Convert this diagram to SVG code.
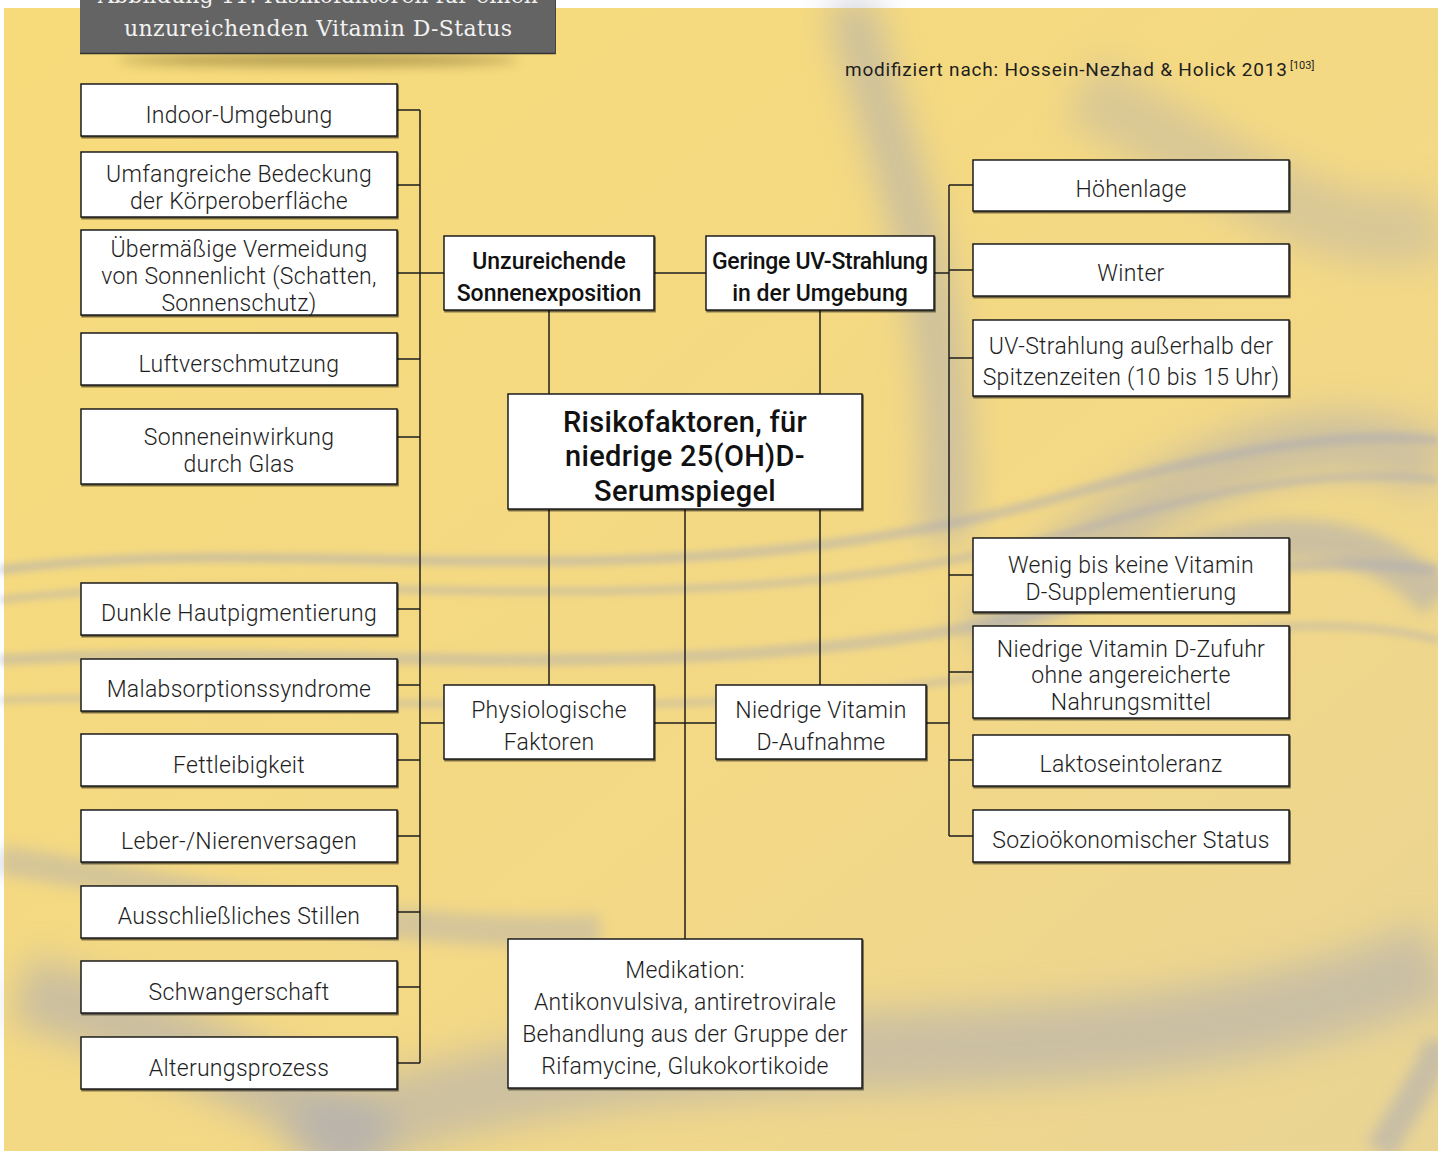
<svg xmlns="http://www.w3.org/2000/svg" width="1438" height="1151" viewBox="0 0 1438 1151">
<defs>
<filter id="b20" x="-50%" y="-50%" width="200%" height="200%"><feGaussianBlur stdDeviation="18"/></filter>
<filter id="b8" x="-50%" y="-50%" width="200%" height="200%"><feGaussianBlur stdDeviation="7"/></filter>
<filter id="b3" x="-50%" y="-50%" width="200%" height="200%"><feGaussianBlur stdDeviation="3"/></filter>
<filter id="sh" x="-10%" y="-10%" width="120%" height="130%"><feDropShadow dx="1" dy="1.5" stdDeviation="0.6" flood-color="#000" flood-opacity="0.6"/></filter>
<filter id="hsh" x="-20%" y="-100%" width="140%" height="300%"><feGaussianBlur stdDeviation="6"/></filter>
<linearGradient id="bg" x1="0" y1="0" x2="1" y2="1">
<stop offset="0" stop-color="#f7db7a"/>
<stop offset="0.6" stop-color="#f3d886"/>
<stop offset="1" stop-color="#e9d494"/>
</linearGradient>
</defs>
<style>
.box{fill:#fff;stroke:#1e1e1e;stroke-width:1.5;filter:url(#sh)}
.t{font-family:Roboto,"Liberation Sans",sans-serif;font-weight:300;font-size:23px;fill:#1e1e1e;text-anchor:middle;letter-spacing:0.3px}
.tb{font-family:Roboto,"Liberation Sans",sans-serif;font-weight:500;font-size:23px;fill:#111;text-anchor:middle}
.tt{font-family:Roboto,"Liberation Sans",sans-serif;font-weight:500;font-size:29px;fill:#111;text-anchor:middle;letter-spacing:0.3px}
.c{fill:none;stroke:#1e1e1e;stroke-width:1.5}
.sw{fill:none;stroke:#a7a9b7}
</style>
<rect width="1438" height="1151" fill="#fff"/>
<g id="background">
<rect x="4" y="8" width="1434" height="1143" fill="url(#bg)"/>
<path class="sw" d="M850 0 C880 140 960 280 945 540" stroke-width="45" opacity="0.55" filter="url(#b20)"/>
<path class="sw" d="M1080 90 C1250 180 1350 260 1438 220" stroke-width="70" opacity="0.35" filter="url(#b20)"/>
<path class="sw" d="M980 640 C1150 470 1330 400 1438 470" stroke-width="60" opacity="0.5" filter="url(#b20)"/>
<path class="sw" d="M1180 560 C1300 520 1380 540 1438 600" stroke-width="40" opacity="0.5" filter="url(#b8)"/>
<path class="sw" d="M0 570 C300 530 650 610 1050 500 C1220 450 1340 430 1438 440" stroke-width="10" opacity="0.45" filter="url(#b3)"/>
<path class="sw" d="M0 600 C320 560 700 640 1080 530 C1240 480 1350 470 1438 480" stroke-width="8" opacity="0.4" filter="url(#b3)"/>
<path class="sw" d="M0 660 C350 640 700 700 1100 600 C1250 560 1350 560 1438 570" stroke-width="12" opacity="0.4" filter="url(#b3)"/>
<path class="sw" d="M0 700 C380 690 720 740 1120 650 C1260 620 1360 620 1438 640" stroke-width="8" opacity="0.35" filter="url(#b3)"/>
<path class="sw" d="M0 860 C250 900 420 940 600 930" stroke-width="30" opacity="0.4" filter="url(#b8)"/>
<path class="sw" d="M20 990 C200 1040 320 1110 380 1151" stroke-width="70" opacity="0.55" filter="url(#b20)"/>
<path class="sw" d="M300 1151 C650 990 1100 1110 1438 960" stroke-width="80" opacity="0.5" filter="url(#b20)"/>
<path class="sw" d="M1380 1151 C1410 1100 1438 1060 1438 1040" stroke-width="30" opacity="0.5" filter="url(#b8)"/>
</g>
<g id="header">
<ellipse cx="318" cy="60" rx="200" ry="6" fill="#6b5a20" opacity="0.5" filter="url(#hsh)"/>
<rect x="80" y="-2" width="476" height="56" fill="#646464"/>
<line x1="80" y1="53.5" x2="556" y2="53.5" stroke="#333" stroke-width="1.5"/>
<line x1="555.5" y1="0" x2="555.5" y2="54" stroke="#444" stroke-width="1"/>
<text x="318" y="3" font-family="'DejaVu Serif','Liberation Serif',serif" font-size="22" fill="#f2f2f2" text-anchor="middle" textLength="440">Abbildung 11: Risikofaktoren für einen</text>
<text x="318" y="36" font-family="'DejaVu Serif','Liberation Serif',serif" font-size="22" fill="#f2f2f2" text-anchor="middle" textLength="388">unzureichenden Vitamin D-Status</text>
</g>
<g id="citation">
<text x="845" y="76" font-family="Roboto,'Liberation Sans',sans-serif" font-size="19" fill="#1e1e1e" textLength="442">modifiziert nach: Hossein-Nezhad &amp; Holick 2013</text>
<text x="1290" y="69" font-family="Roboto,'Liberation Sans',sans-serif" font-size="11" fill="#1e1e1e">[103]</text>
</g>
<g id="connectors">
<path class="c" d="M420 110 V1063"/>
<path class="c" d="M397 110 H420 M397 185 H420 M397 273 H444 M397 359 H420 M397 437 H420 M397 609 H420 M397 685 H420 M397 760 H420 M397 836 H420 M397 912 H420 M397 987 H420 M397 1063 H420"/>
<path class="c" d="M654 273 H706 M934 273 H949"/>
<path class="c" d="M949 185 V836"/>
<path class="c" d="M949 185 H973 M949 270 H973 M949 358 H973 M949 575 H973 M949 672 H973 M949 760 H973 M949 836 H973"/>
<path class="c" d="M549 310 V394 M820 310 V394"/>
<path class="c" d="M549 509 V685 M685 509 V939 M820 509 V685"/>
<path class="c" d="M420 723 H444 M654 723 H716 M926 723 H949"/>
</g>
<g id="n-indoor"><rect class="box" x="81" y="84" width="316" height="52"/><text class="t" x="239" y="123">Indoor-Umgebung</text></g>
<g id="n-bedeckung"><rect class="box" x="81" y="152" width="316" height="65"/><text class="t" x="239" y="182">Umfangreiche Bedeckung</text><text class="t" x="239" y="209">der Körperoberfläche</text></g>
<g id="n-vermeidung"><rect class="box" x="81" y="230" width="316" height="85"/><text class="t" x="239" y="257">Übermäßige Vermeidung</text><text class="t" x="239" y="284">von Sonnenlicht (Schatten,</text><text class="t" x="239" y="311">Sonnenschutz)</text></g>
<g id="n-luft"><rect class="box" x="81" y="333" width="316" height="52"/><text class="t" x="239" y="372">Luftverschmutzung</text></g>
<g id="n-glas"><rect class="box" x="81" y="409" width="316" height="75"/><text class="t" x="239" y="445">Sonneneinwirkung</text><text class="t" x="239" y="472">durch Glas</text></g>
<g id="n-haut"><rect class="box" x="81" y="583" width="316" height="52"/><text class="t" x="239" y="621">Dunkle Hautpigmentierung</text></g>
<g id="n-malabs"><rect class="box" x="81" y="659" width="316" height="52"/><text class="t" x="239" y="697">Malabsorptionssyndrome</text></g>
<g id="n-fett"><rect class="box" x="81" y="734" width="316" height="52"/><text class="t" x="239" y="773">Fettleibigkeit</text></g>
<g id="n-leber"><rect class="box" x="81" y="810" width="316" height="52"/><text class="t" x="239" y="849">Leber-/Nierenversagen</text></g>
<g id="n-stillen"><rect class="box" x="81" y="886" width="316" height="52"/><text class="t" x="239" y="924">Ausschließliches Stillen</text></g>
<g id="n-schwanger"><rect class="box" x="81" y="961" width="316" height="52"/><text class="t" x="239" y="1000">Schwangerschaft</text></g>
<g id="n-alter"><rect class="box" x="81" y="1037" width="316" height="52"/><text class="t" x="239" y="1076">Alterungsprozess</text></g>
<g id="n-sonnenexp"><rect class="box" x="444" y="236" width="210" height="74"/><text class="tb" x="549" y="269">Unzureichende</text><text class="tb" x="549" y="301">Sonnenexposition</text></g>
<g id="n-uv"><rect class="box" x="706" y="236" width="228" height="74"/><text class="tb" x="820" y="269" textLength="216">Geringe UV-Strahlung</text><text class="tb" x="820" y="301">in der Umgebung</text></g>
<g id="n-risiko"><rect class="box" x="508" y="394" width="354" height="115"/><text class="tt" x="685" y="432">Risikofaktoren, für</text><text class="tt" x="685" y="466">niedrige 25(OH)D-</text><text class="tt" x="685" y="501">Serumspiegel</text></g>
<g id="n-physio"><rect class="box" x="444" y="685" width="210" height="74"/><text class="t" x="549" y="718">Physiologische</text><text class="t" x="549" y="750">Faktoren</text></g>
<g id="n-aufnahme"><rect class="box" x="716" y="685" width="210" height="74"/><text class="t" x="821" y="718">Niedrige Vitamin</text><text class="t" x="821" y="750">D-Aufnahme</text></g>
<g id="n-medikation"><rect class="box" x="508" y="939" width="354" height="149"/><text class="t" x="685" y="978">Medikation:</text><text class="t" x="685" y="1010">Antikonvulsiva, antiretrovirale</text><text class="t" x="685" y="1042">Behandlung aus der Gruppe der</text><text class="t" x="685" y="1074">Rifamycine, Glukokortikoide</text></g>
<g id="n-hoehe"><rect class="box" x="973" y="160" width="316" height="51"/><text class="t" x="1131" y="197">Höhenlage</text></g>
<g id="n-winter"><rect class="box" x="973" y="244" width="316" height="52"/><text class="t" x="1131" y="281">Winter</text></g>
<g id="n-spitzen"><rect class="box" x="973" y="320" width="316" height="76"/><text class="t" x="1131" y="354">UV-Strahlung außerhalb der</text><text class="t" x="1131" y="385">Spitzenzeiten (10 bis 15 Uhr)</text></g>
<g id="n-supplement"><rect class="box" x="973" y="538" width="316" height="74"/><text class="t" x="1131" y="573">Wenig bis keine Vitamin</text><text class="t" x="1131" y="600">D-Supplementierung</text></g>
<g id="n-zufuhr"><rect class="box" x="973" y="626" width="316" height="92"/><text class="t" x="1131" y="657">Niedrige Vitamin D-Zufuhr</text><text class="t" x="1131" y="683">ohne angereicherte</text><text class="t" x="1131" y="710">Nahrungsmittel</text></g>
<g id="n-laktose"><rect class="box" x="973" y="735" width="316" height="51"/><text class="t" x="1131" y="772">Laktoseintoleranz</text></g>
<g id="n-sozio"><rect class="box" x="973" y="810" width="316" height="52"/><text class="t" x="1131" y="848">Sozioökonomischer Status</text></g>
</svg>
